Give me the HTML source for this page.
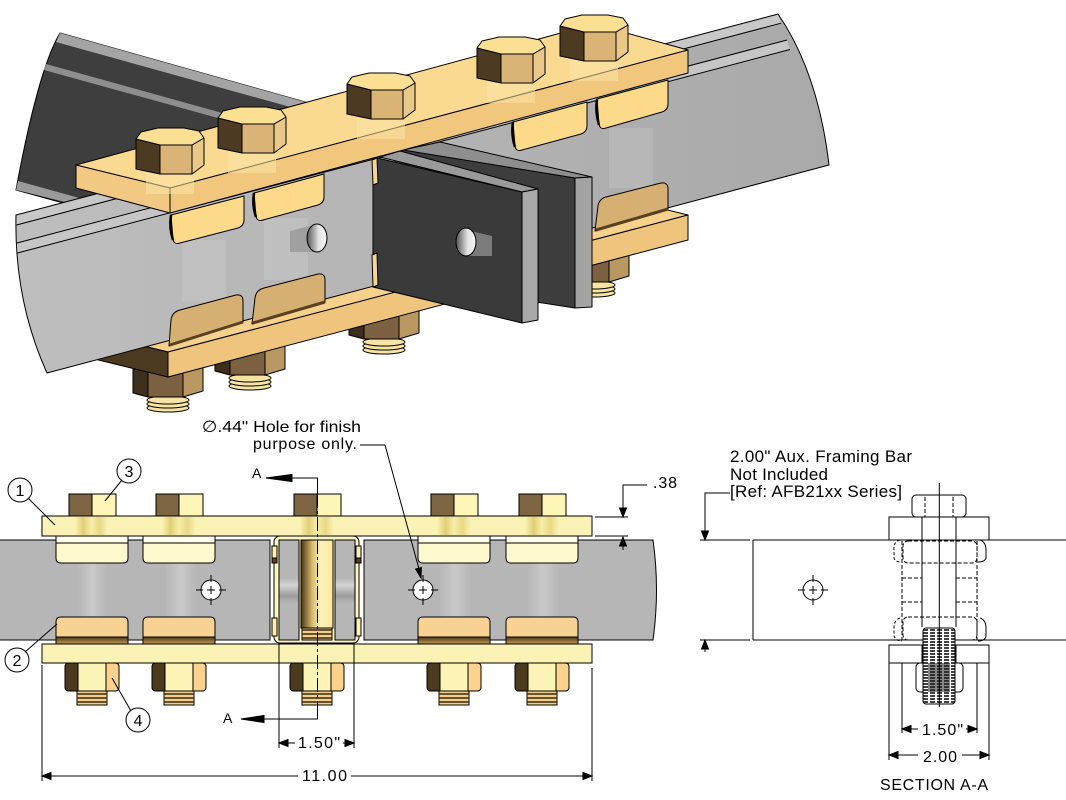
<!DOCTYPE html>
<html><head><meta charset="utf-8"><style>
html,body{margin:0;padding:0;background:#fff;}
svg{display:block;}
text{font-family:"Liberation Sans",Arial,"DejaVu Sans",sans-serif;fill:#000;}
</style></head><body>
<svg width="1066" height="800" viewBox="0 0 1066 800" xmlns="http://www.w3.org/2000/svg">
<defs>
 <linearGradient id="barG" x1="0" x2="1" y1="0" y2="0">
  <stop offset="0" stop-color="#bebebe"/><stop offset="1" stop-color="#a9a9a9"/>
 </linearGradient>
 <linearGradient id="hl" x1="0" x2="1">
  <stop offset="0" stop-color="#fbf3b5"/>
  <stop offset="0.25" stop-color="#e2cf74"/>
  <stop offset="0.5" stop-color="#f8eea8"/>
  <stop offset="0.75" stop-color="#e9d986"/>
  <stop offset="1" stop-color="#fbf3b5"/>
 </linearGradient>
 <linearGradient id="shank" x1="0" x2="1">
  <stop offset="0" stop-color="#4a3418"/>
  <stop offset="0.35" stop-color="#d6b96c"/>
  <stop offset="0.6" stop-color="#fdf3bc"/>
  <stop offset="1" stop-color="#fbe9a0"/>
 </linearGradient>
 <linearGradient id="ghost" x1="0" x2="1">
  <stop offset="0" stop-color="#b6b6b6"/><stop offset="0.5" stop-color="#c9c9c9"/><stop offset="1" stop-color="#b6b6b6"/>
 </linearGradient>
 <linearGradient id="band" x1="0" y1="0" x2="0" y2="1">
  <stop offset="0" stop-color="#b6b6b6"/><stop offset="0.38" stop-color="#b6b6b6"/>
  <stop offset="0.45" stop-color="#d4d4d4"/><stop offset="0.56" stop-color="#9d9d9d"/>
  <stop offset="0.63" stop-color="#b6b6b6"/><stop offset="1" stop-color="#b6b6b6"/>
 </linearGradient>
 <linearGradient id="lcb" x1="0" y1="0" x2="0" y2="1">
  <stop offset="0" stop-color="#4a3415"/><stop offset="1" stop-color="#c99a5c"/>
 </linearGradient>
 <linearGradient id="holeG" x1="0" x2="1">
  <stop offset="0" stop-color="#555"/><stop offset="0.6" stop-color="#e6e6e6"/><stop offset="1" stop-color="#f4f4f4"/>
 </linearGradient>

 <!-- 3D bolt head -->
 <g id="bh" stroke="#000" stroke-width="1" stroke-linejoin="round">
  <rect x="10" y="44" width="48" height="22" fill="#fbe6a8" stroke="none" opacity=".55"/>
  <polygon points="0,11 24,17 24,46 0,41" fill="#4d3a22"/>
  <polygon points="24,17 56,17 56,46 24,46" fill="#dab476"/>
  <polygon points="56,17 68,10 68,37 56,46" fill="#e9c88a"/>
  <polygon points="0,11 5,4 22,0 48,0 63,3 68,10 56,17 24,17" fill="#fbdf93"/>
 </g>
 <!-- 3D nut -->
 <g id="n3" stroke="#000" stroke-width="1" stroke-linejoin="round">
  <ellipse cx="35" cy="48" rx="21" ry="4" fill="#f7e4a2"/>
  <ellipse cx="35" cy="44" rx="21" ry="4" fill="#f7e4a2"/>
  <ellipse cx="35" cy="40" rx="21" ry="4" fill="#f7e4a2"/>
  <polygon points="0,0 15,3 15,37 0,33" fill="#3d2f1b"/>
  <polygon points="15,3 50,3 50,37 15,37" fill="#7b6142"/>
  <polygon points="50,3 70,0 70,31 50,37" fill="#b99760"/>
 </g>
 <!-- 2D bolt head -->
 <g id="bh2" stroke="#000" stroke-width="1">
  <rect x="0" y="0" width="23" height="22" fill="#7d6543"/>
  <rect x="23" y="0" width="24" height="22" fill="#fdf6b8"/>
 </g>
 <!-- 2D nut -->
 <g id="nt2" stroke="#000" stroke-width="1">
  <rect x="12" y="28" width="30" height="14" fill="#f3cf8a"/>
  <line x1="12" y1="31" x2="42" y2="31" stroke="#3a2a10" stroke-width="1.6"/>
  <line x1="12" y1="35" x2="42" y2="35" stroke="#3a2a10" stroke-width="1.6"/>
  <line x1="12" y1="39" x2="42" y2="39" stroke="#3a2a10" stroke-width="1.6"/>
  <rect x="0" y="0" width="54" height="28" rx="4" fill="#fdf5b8"/>
  <path d="M4,0 H13 V28 H4 Q0,28 0,24 V4 Q0,0 4,0 Z" fill="#4a3a1e"/>
  <path d="M41,0 H50 Q54,0 54,4 V24 Q54,28 50,28 H41 Z" fill="#fcd28c"/>
 </g>
 <!-- 2D upper clip -->
 <g id="uc" stroke="#000" stroke-width="1">
  <path d="M0,0 H72 V22 Q72,27 67,27 H5 Q0,27 0,22 Z" fill="#fef9cf"/>
  <rect x="0" y="0" width="72" height="7" fill="#fffde9"/>
 </g>
 <!-- 2D lower clip -->
 <g id="lc" stroke="#000" stroke-width="1">
  <path d="M0,27 V5 Q0,0 5,0 H67 Q72,0 72,5 V27 Z" fill="#f8d293"/>
  <rect x="0" y="20" width="72" height="7" fill="url(#lcb)"/>
 </g>
 <!-- hole symbol -->
 <g id="hole" stroke="#000" stroke-width="1" fill="none">
  <circle cx="0" cy="0" r="10" fill="#fff"/>
  <line x1="-15" y1="0" x2="-8" y2="0"/><line x1="8" y1="0" x2="15" y2="0"/>
  <line x1="0" y1="-15" x2="0" y2="-8"/><line x1="0" y1="8" x2="0" y2="15"/>
  <line x1="-4" y1="0" x2="4" y2="0"/><line x1="0" y1="-4" x2="0" y2="4"/>
 </g>
</defs>

<!-- ================= 3D VIEW ================= -->
<g stroke="#000" stroke-width="1" stroke-linejoin="round">
 <!-- dark back bar -->
 <path d="M60,33 L330,109 L330,200 L67,204 L16,190 Q38,70 60,33 Z" fill="#3e3e3e"/>
 <polygon points="60,33 330,109 330,118 56,42" fill="#a4a4a4" stroke="none"/>
 <polygon points="46,64 330,143 330,149 44,70" fill="#8e8e8e" stroke="none"/>
 <polygon points="18,181 90,201 90,208 16,190" fill="#9a9a9a" stroke="none"/>

 <!-- nuts under bottom plate -->
 <use href="#n3" x="133" y="360"/>
 <use href="#n3" x="215" y="338"/>
 <use href="#n3" x="349" y="302"/>
 <use href="#n3" x="559" y="245"/>

 <!-- bottom plate -->
 <polygon points="74,329 168,352 688,215 594,192" fill="#f6d18b"/>
 <polygon points="168,352 688,215 688,240 168,377" fill="#efc47d"/>
 <polygon points="74,329 168,352 168,377 74,354" fill="#4b3920"/>

 <!-- main gray bar -->
 <path d="M16,215 L778,14 Q818,72 829,165 L47,373 Q14,300 16,215 Z" fill="url(#barG)"/>
 <polygon points="16.5,216 778,15 781,23 16.5,225" fill="#c8c8c8" stroke="none"/>
 <polygon points="17,243 787,40 790,49.5 17.5,253" fill="#c6c6c6" stroke="none"/>
 <line x1="16.5" y1="225" x2="781" y2="23.2"/>
 <line x1="17" y1="243" x2="787" y2="40"/>
 <line x1="17.5" y1="253" x2="790" y2="49.5"/>

 <!-- ghost shanks -->
 <rect x="182" y="240" width="44" height="62" fill="#c8c8c8" stroke="none" opacity=".5"/>
 <rect x="264" y="218" width="44" height="62" fill="#c8c8c8" stroke="none" opacity=".5"/>
 <rect x="609" y="128" width="44" height="60" fill="#c0c0c0" stroke="none" opacity=".5"/>

 <!-- hole in left bar -->
 <path d="M290,231 L317,224 L317,252 L290,252 Z" fill="#a0a0a0" stroke="none"/>
 <ellipse cx="317" cy="238" rx="10" ry="14" fill="url(#holeG)"/>

 <!-- central back plate -->
 <polygon points="395,148 575,178 575,308 395,280" fill="#3d3d3d"/>
 <polygon points="403,150 440,142 592,177 575,178" fill="#8e8e8e"/>
 <polygon points="575,178 592,177 592,307 575,308" fill="#a3a3a3"/>
 <!-- central front plate -->
 <polygon points="373,157 522,192 522,323 373,287" fill="#3a3a3a"/>
 <polygon points="380,157 400,151 538,189 522,192" fill="#9a9a9a"/>
 <polygon points="522,192 538,189 538,320 522,323" fill="#a9a9a9"/>
 <path d="M466,230 L492,236 L492,256 L466,256 Z" fill="#7c7c7c" stroke="none"/>
 <ellipse cx="466" cy="242" rx="10" ry="14" fill="url(#holeG)"/>
 <path d="M372,160 L377,158 L378,183 L373,185 Z" fill="#f6d58e"/>
 <path d="M372,255 L377,253 L378,285 L373,287 Z" fill="#f6d58e"/>

 <!-- lower clips -->
 <path d="M169,346 L171,320 Q172,312 180,310 L236,295 Q243,294 243,301 L243,322 Z" fill="#d6af72"/>
 <line x1="170" y1="345" x2="243" y2="322" stroke="#5a4020" stroke-width="3"/>
 <path d="M252,324 L255,298 Q256,290 264,288 L318,274 Q325,273 325,280 L325,302 Z" fill="#d6af72"/>
 <line x1="253" y1="323" x2="325" y2="302" stroke="#5a4020" stroke-width="3"/>
 <path d="M595,231 L598,206 Q599,199 606,197 L661,183 Q668,182 668,189 L668,209 Z" fill="#d6af72"/>
 <line x1="596" y1="230" x2="668" y2="209" stroke="#5a4020" stroke-width="3"/>

 <!-- top plate -->
 <polygon points="76,165 170,188 688,50 594,24" fill="#fad990"/>
 <polygon points="76,165 170,188 170,213 76,188" fill="#f2c983"/>
 <polygon points="170,188 688,50 688,73 170,213" fill="#f1c67d"/>

 <!-- upper clips -->
 <path d="M171,215 L244,196 L244,220 Q244,226 238,228 L180,243 Q174,245 173,239 Z" fill="#fdd98a"/>
 <path d="M171,215 Q169,228 173,240" fill="none" stroke-width="2.5"/>
 <path d="M254,193 L324,174 L324,197 Q324,203 318,205 L263,220 Q257,222 256,216 Z" fill="#fdd98a"/>
 <path d="M254,193 Q252,205 256,217" fill="none" stroke-width="2.5"/>
 <path d="M513,122 L587,102 L587,126 Q587,132 581,134 L522,150 Q516,152 515,146 Z" fill="#fdd98a"/>
 <path d="M513,122 Q511,135 515,147" fill="none" stroke-width="2.5"/>
 <path d="M597,99 L668,80 L668,104 Q668,110 662,112 L606,128 Q600,130 599,124 Z" fill="#fdd98a"/>
 <path d="M597,99 Q595,112 599,125" fill="none" stroke-width="2.5"/>

 <!-- bolt heads -->
 <use href="#bh" x="136" y="128"/>
 <use href="#bh" x="218" y="107"/>
 <use href="#bh" x="347" y="73"/>
 <use href="#bh" x="477" y="37"/>
 <use href="#bh" x="560" y="15"/>
</g>

<!-- ================= FRONT VIEW ================= -->
<g stroke="#000" stroke-width="1">
 <rect x="-2" y="540" width="272" height="100" fill="#b6b6b6"/>
 <path d="M364,540 H653 Q660,590 653,640 H364 Z" fill="#b6b6b6"/>
 <rect x="77" y="563" width="31" height="54" fill="url(#ghost)" stroke="none"/>
 <rect x="165" y="563" width="32" height="54" fill="url(#ghost)" stroke="none"/>
 <rect x="439" y="563" width="32" height="54" fill="url(#ghost)" stroke="none"/>
 <rect x="527" y="563" width="32" height="54" fill="url(#ghost)" stroke="none"/>

 <!-- center assembly -->
 <rect x="274" y="536" width="85" height="107" rx="6" fill="#fdf6c2"/>
 <rect x="279" y="540" width="20" height="100" fill="url(#band)"/>
 <rect x="335" y="540" width="20" height="100" fill="url(#band)"/>
 <rect x="301" y="540" width="32" height="88" fill="url(#shank)"/>
 <rect x="302" y="628" width="30" height="12" fill="#f3cf8a"/>
 <line x1="302" y1="630" x2="332" y2="630" stroke="#3a2a10" stroke-width="1.6"/>
 <line x1="302" y1="634" x2="332" y2="634" stroke="#3a2a10" stroke-width="1.6"/>
 <line x1="302" y1="638" x2="332" y2="638" stroke="#3a2a10" stroke-width="1.6"/>
 <rect x="272" y="546" width="5" height="17" fill="#fdf0b0"/>
 <rect x="272" y="558" width="5" height="5" fill="#5a4020"/>
 <rect x="356" y="546" width="5" height="17" fill="#fdf0b0"/>
 <rect x="356" y="558" width="5" height="5" fill="#5a4020"/>
 <rect x="272" y="618" width="5" height="18" fill="#fdf0b0"/>
 <rect x="356" y="618" width="5" height="18" fill="#fdf0b0"/>

 <!-- clips -->
 <use href="#uc" x="56" y="536"/>
 <use href="#uc" x="143" y="536"/>
 <use href="#uc" x="418" y="536"/>
 <use href="#uc" x="506" y="536"/>
 <use href="#lc" x="56" y="617"/>
 <use href="#lc" x="143" y="617"/>
 <use href="#lc" x="418" y="617"/>
 <use href="#lc" x="506" y="617"/>

 <!-- plates -->
 <rect x="42" y="516" width="550" height="20" fill="#fbf3b5"/>
 <rect x="75" y="517" width="33" height="18" fill="url(#hl)" stroke="none"/>
 <rect x="162" y="517" width="34" height="18" fill="url(#hl)" stroke="none"/>
 <rect x="300" y="517" width="34" height="18" fill="url(#hl)" stroke="none"/>
 <rect x="437" y="517" width="34" height="18" fill="url(#hl)" stroke="none"/>
 <rect x="525" y="517" width="34" height="18" fill="url(#hl)" stroke="none"/>
 <rect x="42" y="644" width="550" height="19" fill="#fbf3b5"/>

 <!-- bolt heads -->
 <use href="#bh2" x="69" y="494"/>
 <use href="#bh2" x="156" y="494"/>
 <use href="#bh2" x="294" y="494"/>
 <use href="#bh2" x="431" y="494"/>
 <use href="#bh2" x="519" y="494"/>
 <!-- nuts -->
 <use href="#nt2" x="65" y="663"/>
 <use href="#nt2" x="152" y="663"/>
 <use href="#nt2" x="290" y="663"/>
 <use href="#nt2" x="427" y="663"/>
 <use href="#nt2" x="515" y="663"/>

 <!-- holes -->
 <use href="#hole" x="211" y="590"/>
 <use href="#hole" x="423" y="590"/>

 <!-- center line & section markers -->
 <line x1="317.5" y1="494" x2="317.5" y2="705" stroke-dasharray="14 3 3 3"/>
 <polyline points="292,478 317.5,478 317.5,494" fill="none"/>
 <polygon points="266,478 292,474.5 292,481.5" fill="#000"/>
 <polyline points="264,719 317.5,719 317.5,705" fill="none"/>
 <polygon points="241,719 264,715.5 264,722.5" fill="#000"/>

 <!-- balloons -->
 <circle cx="20" cy="490" r="12" fill="#fff"/>
 <line x1="28" y1="498" x2="55" y2="525"/>
 <circle cx="129" cy="471" r="12" fill="#fff"/>
 <line x1="122" y1="480" x2="105" y2="501"/>
 <circle cx="17" cy="660" r="12" fill="#fff"/>
 <line x1="25" y1="652" x2="57" y2="624"/>
 <circle cx="138" cy="720" r="12" fill="#fff"/>
 <line x1="131" y1="711" x2="112" y2="678"/>

 <!-- hole note leader -->
 <polyline points="360,445 385,445 419,569" fill="none"/>
 <polygon points="421,578 421.4,567.5 415.6,569.1" fill="#000"/>

 <!-- .38 dim -->
 <line x1="595" y1="517" x2="628" y2="517"/>
 <line x1="595" y1="536" x2="628" y2="536"/>
 <polyline points="647,485 623,485 623,509" fill="none"/>
 <polygon points="623,517 619.5,508 626.5,508" fill="#000"/>
 <line x1="623" y1="545" x2="623" y2="550"/>
 <polygon points="623,537 619.5,546 626.5,546" fill="#000"/>

 <!-- 1.50 dim -->
 <line x1="279" y1="643" x2="279" y2="748"/>
 <line x1="354" y1="643" x2="354" y2="748"/>
 <line x1="279" y1="743" x2="295" y2="743"/>
 <line x1="343" y1="743" x2="354" y2="743"/>
 <polygon points="279,743 288,739.5 288,746.5" fill="#000"/>
 <polygon points="354,743 345,739.5 345,746.5" fill="#000"/>

 <!-- 11.00 dim -->
 <line x1="42" y1="665" x2="42" y2="781"/>
 <line x1="592" y1="668" x2="592" y2="781"/>
 <line x1="42" y1="776" x2="298" y2="776"/>
 <line x1="351" y1="776" x2="592" y2="776"/>
 <polygon points="42,776 51,772.5 51,779.5" fill="#000"/>
 <polygon points="592,776 583,772.5 583,779.5" fill="#000"/>
</g>

<g font-size="16">
 <text x="202" y="432" textLength="159" lengthAdjust="spacingAndGlyphs">∅.44" Hole for finish</text>
 <text x="253" y="449" textLength="104">purpose only.</text>
 <text x="252" y="478" font-size="14">A</text>
 <text x="223" y="723" font-size="14">A</text>
 <text x="653" y="488" textLength="24">.38</text>
 <text x="298" y="748" textLength="42">1.50"</text>
 <text x="302" y="781" textLength="45">11.00</text>
 <text x="20" y="496" font-size="16" text-anchor="middle">1</text>
 <text x="129" y="477" font-size="16" text-anchor="middle">3</text>
 <text x="17" y="666" font-size="16" text-anchor="middle">2</text>
 <text x="138" y="726" font-size="16" text-anchor="middle">4</text>
</g>

<!-- ================= SECTION A-A ================= -->
<g stroke="#000" stroke-width="1" fill="none">
 <!-- bar -->
 <line x1="700" y1="540" x2="750" y2="540"/>
 <line x1="700" y1="640" x2="750" y2="640"/>
 <line x1="753" y1="540" x2="1066" y2="540"/>
 <line x1="753" y1="640" x2="1066" y2="640"/>
 <line x1="753" y1="540" x2="753" y2="640"/>
 <polyline points="730,493 705,493 705,532"/>
 <polygon points="705,540 701.5,531 708.5,531" fill="#000"/>
 <line x1="705" y1="648" x2="705" y2="652"/>
 <polygon points="705,640 701.5,649 708.5,649" fill="#000"/>
 <use href="#hole" x="813" y="590"/>

 <!-- assembly -->
 <rect x="912" y="495" width="54" height="22" rx="4" fill="#fff"/>
 <line x1="925" y1="497" x2="925" y2="517" stroke-dasharray="4 2"/>
 <line x1="953" y1="497" x2="953" y2="517" stroke-dasharray="4 2"/>
 <rect x="889" y="517" width="100" height="23" fill="#fff"/>
 <line x1="922" y1="517" x2="922" y2="627"/>
 <line x1="956" y1="517" x2="956" y2="627"/>
 <rect x="903" y="541" width="74" height="22" rx="5" stroke-dasharray="4 2"/>
 <rect x="903" y="617" width="74" height="23" rx="5" stroke-dasharray="4 2"/>
 <line x1="902" y1="541" x2="902" y2="640" stroke-dasharray="4 2"/>
 <line x1="977" y1="541" x2="977" y2="640" stroke-dasharray="4 2"/>
 <line x1="902" y1="578" x2="922" y2="578" stroke-dasharray="4 2"/>
 <line x1="956" y1="578" x2="977" y2="578" stroke-dasharray="4 2"/>
 <line x1="902" y1="602" x2="922" y2="602" stroke-dasharray="4 2"/>
 <line x1="956" y1="602" x2="977" y2="602" stroke-dasharray="4 2"/>
 <path d="M900,540 Q893,542 894,550 L894,558 Q895,562 902,562" stroke-dasharray="3 2"/>
 <path d="M980,540 Q986,542 986,550 L986,558 Q985,562 978,562"/>
 <path d="M900,618 Q894,620 894,628 L894,636 Q896,641 902,641" stroke-dasharray="3 2"/>
 <path d="M980,618 Q986,620 986,628 L986,636 Q985,641 978,641"/>
 <rect x="889" y="645" width="100" height="18" fill="#fff"/>
 <line x1="922" y1="645" x2="922" y2="663"/>
 <line x1="956" y1="645" x2="956" y2="663"/>
 <rect x="916" y="663" width="47" height="29" rx="4" fill="#fff"/>
 <rect x="923" y="628" width="32" height="76" rx="3" fill="#fff"/>
 <g stroke-dasharray="5 2" stroke-width="1.4">
  <line x1="923" y1="630" x2="955" y2="630"/><line x1="923" y1="633" x2="955" y2="633"/>
  <line x1="923" y1="636" x2="955" y2="636"/><line x1="923" y1="639" x2="955" y2="639"/>
  <line x1="923" y1="642" x2="955" y2="642"/><line x1="923" y1="645" x2="955" y2="645"/>
  <line x1="923" y1="648" x2="955" y2="648"/><line x1="923" y1="651" x2="955" y2="651"/>
  <line x1="923" y1="654" x2="955" y2="654"/><line x1="923" y1="657" x2="955" y2="657"/>
  <line x1="923" y1="660" x2="955" y2="660"/><line x1="923" y1="663" x2="955" y2="663"/>
  <line x1="923" y1="666" x2="955" y2="666"/><line x1="923" y1="669" x2="955" y2="669"/>
  <line x1="923" y1="672" x2="955" y2="672"/><line x1="923" y1="675" x2="955" y2="675"/>
  <line x1="923" y1="678" x2="955" y2="678"/><line x1="923" y1="681" x2="955" y2="681"/>
  <line x1="923" y1="684" x2="955" y2="684"/><line x1="923" y1="687" x2="955" y2="687"/>
  <line x1="923" y1="690" x2="955" y2="690"/><line x1="923" y1="693" x2="955" y2="693"/>
  <line x1="923" y1="696" x2="955" y2="696"/><line x1="923" y1="699" x2="955" y2="699"/>
  <line x1="923" y1="702" x2="955" y2="702"/>
 </g>
 <rect x="928" y="663" width="22" height="29" fill="#222" stroke="none" opacity=".55"/>
 <line x1="939.3" y1="483" x2="939.3" y2="707"/>

 <!-- dims -->
 <line x1="902" y1="663" x2="902" y2="733"/>
 <line x1="977" y1="663" x2="977" y2="733"/>
 <line x1="902" y1="729" x2="918" y2="729"/>
 <line x1="966" y1="729" x2="977" y2="729"/>
 <polygon points="902,729 911,725.5 911,732.5" fill="#000"/>
 <polygon points="977,729 968,725.5 968,732.5" fill="#000"/>
 <line x1="889" y1="663" x2="889" y2="760"/>
 <line x1="989" y1="663" x2="989" y2="760"/>
 <line x1="889" y1="755" x2="918" y2="755"/>
 <line x1="962" y1="755" x2="989" y2="755"/>
 <polygon points="889,755 898,751.5 898,758.5" fill="#000"/>
 <polygon points="989,755 980,751.5 980,758.5" fill="#000"/>
</g>

<g font-size="17">
 <text x="730" y="462" textLength="182">2.00" Aux. Framing Bar</text>
 <text x="730" y="480" textLength="98">Not Included</text>
 <text x="730" y="497" textLength="172">[Ref: AFB21xx Series]</text>
 <text x="922" y="735" font-size="16" textLength="41">1.50"</text>
 <text x="923" y="762" font-size="16" textLength="34">2.00</text>
 <text x="880" y="790" font-size="16" textLength="108">SECTION A-A</text>
</g>
</svg>
</body></html>
